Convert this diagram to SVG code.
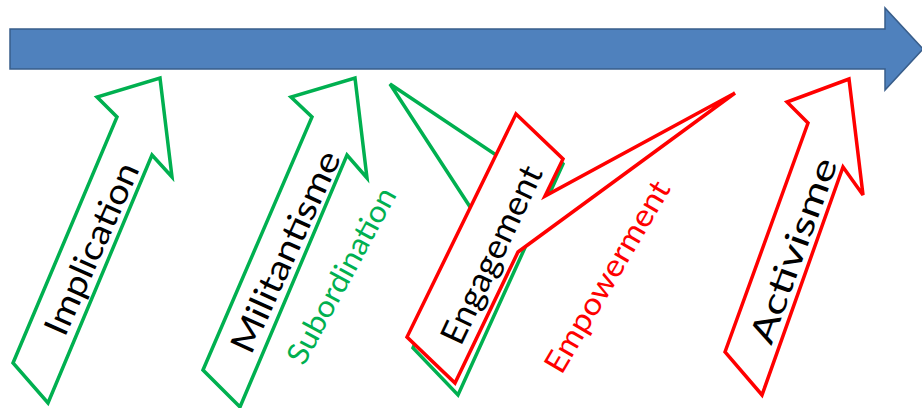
<svg xmlns="http://www.w3.org/2000/svg" width="922" height="408" viewBox="0 0 922 408">
  <style>
    .timeline { fill: #4F81BD; stroke: #385D8A; stroke-width: 1.5; stroke-linejoin: miter; }
    .green { fill: #FFFFFF; stroke: #00B050; stroke-width: 3.5; stroke-linejoin: miter; }
    .redfill { fill: #FFFFFF; stroke: #FF0000; stroke-width: 3.5; stroke-linejoin: miter; }
    text { font-family: Lato, "Open Sans", "Liberation Sans", sans-serif; text-anchor: middle; dominant-baseline: central; }
    .label { fill: #000000; font-size: 34px; }
    .glabel { fill: #00B050; font-size: 30px; }
    .rlabel { fill: #FF0000; font-size: 31px; }
  </style>
  <rect width="922" height="408" fill="#FFFFFF"/>

  <!-- time axis -->
  <g id="timeline">
    <polygon class="timeline" points="10,29 885,29 885,8 923,49 885,90 885,69 10,69"/>
  </g>

  <!-- stage arrows -->
  <g id="implication">
    <polygon class="green" points="13,363 117,117 97,97 160,78 172,177 152,155 48,403"/>
    <text class="label" x="90" y="248" transform="rotate(-66 90 248)" textLength="185" lengthAdjust="spacingAndGlyphs">Implication</text>
  </g>

  <g id="militantisme">
    <polygon class="green" points="203,370 312,117 291,97 355,78 367,178 347,155 240,407"/>
    <text class="label" x="284" y="251" transform="rotate(-65.5 284 251)" textLength="218" lengthAdjust="spacingAndGlyphs">Militantisme</text>
  </g>

  <g id="subordination">
    <text class="glabel" x="340" y="275" transform="rotate(-61.5 340 275)" textLength="196" lengthAdjust="spacingAndGlyphs">Subordination</text>
  </g>

  <!-- engagement callouts: green one underneath, red one on top -->
  <g id="engagement">
    <polygon class="green" points="518,120 563,164 458,395 413,348 474,213 390,84 499,157"/>
    <polygon class="redfill" points="516,114 563,159 545,196 735,93 518,252 455,383 407,337"/>
    <text class="label" x="490" y="254" transform="rotate(-64.6 490 254)" textLength="193" lengthAdjust="spacingAndGlyphs">Engagement</text>
  </g>

  <g id="empowerment">
    <text class="rlabel" x="606" y="276" transform="rotate(-59.6 606 276)" textLength="217" lengthAdjust="spacingAndGlyphs">Empowerment</text>
  </g>

  <g id="activisme">
    <polygon class="redfill" points="725,352 808,123 787,102 849,79 863,195 843,167 762,395"/>
    <text class="label" x="792" y="250" transform="rotate(-70 792 250)" textLength="195" lengthAdjust="spacingAndGlyphs">Activisme</text>
  </g>
</svg>
